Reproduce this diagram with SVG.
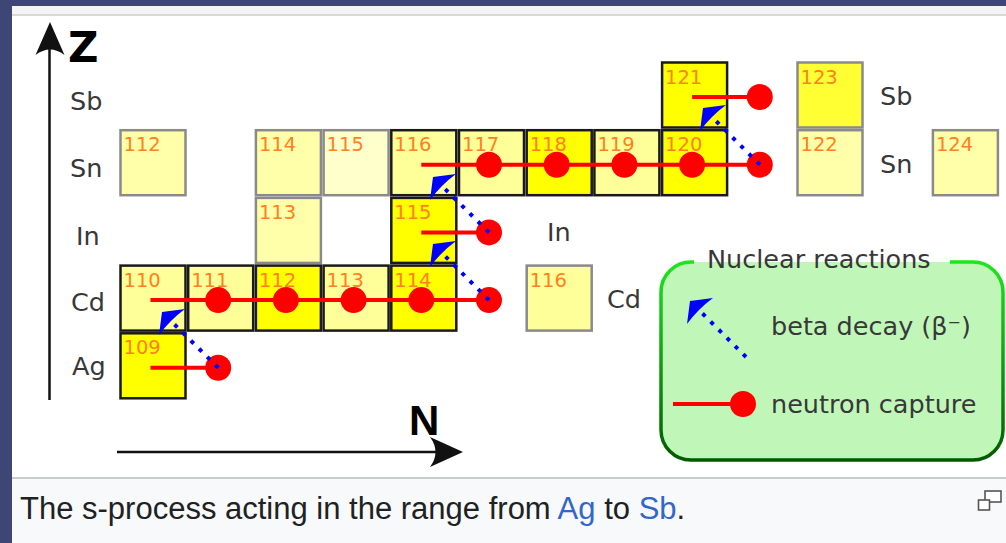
<svg xmlns="http://www.w3.org/2000/svg" width="1006" height="543" viewBox="0 0 1006 543">
<defs>
<style>
.cb{stroke:#1a1a1a;stroke-width:2.5}
.cg{stroke:#8a8a8a;stroke-width:2.5}
.num{font-family:"DejaVu Sans",sans-serif;font-size:19.5px;fill:#ff7f22}
.lbl{font-family:"DejaVu Sans",sans-serif;font-size:25.5px;fill:#383838}
.cap{stroke:#ff0000;stroke-width:4;fill:none}
.dot{fill:#ff0000}
.beta{stroke:#0000ff;stroke-width:4;stroke-dasharray:4 7.5;fill:none}
.bh{fill:#0000ff}
.ax{stroke:#111;stroke-width:2.5;fill:none}
.axh{fill:#111}
</style>
<linearGradient id="gs" gradientUnits="userSpaceOnUse" x1="0" y1="262" x2="0" y2="460">
<stop offset="0" stop-color="#1ee61e"/>
<stop offset="1" stop-color="#005a00"/>
</linearGradient>
</defs>
<rect x="0" y="0" width="1006" height="543" fill="#3e4675"/>
<rect x="12" y="6" width="994" height="8" fill="#f4f4f4"/>
<rect x="12" y="14" width="994" height="2" fill="#d8d8d8"/>
<rect x="12" y="16" width="994" height="461" fill="#ffffff"/>
<rect x="12" y="477" width="994" height="2" fill="#c8ccd1"/>
<rect x="12" y="479" width="994" height="64" fill="#f8f9fa"/>

<g id="cells">
<g id="sb121"><rect class="cb" x="662.1" y="62.5" width="65" height="65" fill="#ffff00"/><text class="num" x="665" y="83.5">121</text></g>
<g id="sb123"><rect class="cg" x="797.5" y="62.5" width="65" height="65" fill="#ffff33"/><text class="num" x="800.5" y="83.5">123</text></g>
<g id="sn112"><rect class="cg" x="120.5" y="130.2" width="65" height="65" fill="#ffffaa"/><text class="num" x="123.5" y="151.2">112</text></g>
<g id="sn114"><rect class="cg" x="255.9" y="130.2" width="65" height="65" fill="#ffffaa"/><text class="num" x="258.9" y="151.2">114</text></g>
<g id="sn115"><rect class="cg" x="323.6" y="130.2" width="65" height="65" fill="#ffffcc"/><text class="num" x="326.6" y="151.2">115</text></g>
<g id="sn116"><rect class="cb" x="391.3" y="130.2" width="65" height="65" fill="#ffff99"/><text class="num" x="394.3" y="151.2">116</text></g>
<g id="sn117"><rect class="cb" x="459" y="130.2" width="65" height="65" fill="#ffff99"/><text class="num" x="462" y="151.2">117</text></g>
<g id="sn118"><rect class="cb" x="526.7" y="130.2" width="65" height="65" fill="#ffff00"/><text class="num" x="529.7" y="151.2">118</text></g>
<g id="sn119"><rect class="cb" x="594.4" y="130.2" width="65" height="65" fill="#ffff99"/><text class="num" x="597.4" y="151.2">119</text></g>
<g id="sn120"><rect class="cb" x="662.1" y="130.2" width="65" height="65" fill="#ffff00"/><text class="num" x="665.1" y="151.2">120</text></g>
<g id="sn122"><rect class="cg" x="797.5" y="130.2" width="65" height="65" fill="#ffffaa"/><text class="num" x="800.5" y="151.2">122</text></g>
<g id="sn124"><rect class="cg" x="932.9" y="130.2" width="65" height="65" fill="#ffffaa"/><text class="num" x="935.9" y="151.2">124</text></g>
<g id="in113"><rect class="cg" x="255.9" y="197.9" width="65" height="65" fill="#ffffaa"/><text class="num" x="258.9" y="218.9">113</text></g>
<g id="in115"><rect class="cb" x="391.3" y="197.9" width="65" height="65" fill="#ffff00"/><text class="num" x="394.3" y="218.9">115</text></g>
<g id="cd110"><rect class="cb" x="120.5" y="265.6" width="65" height="65" fill="#ffff99"/><text class="num" x="123.5" y="286.6">110</text></g>
<g id="cd111"><rect class="cb" x="188.2" y="265.6" width="65" height="65" fill="#ffff99"/><text class="num" x="191.2" y="286.6">111</text></g>
<g id="cd112"><rect class="cb" x="255.9" y="265.6" width="65" height="65" fill="#ffff00"/><text class="num" x="258.9" y="286.6">112</text></g>
<g id="cd113"><rect class="cb" x="323.6" y="265.6" width="65" height="65" fill="#ffff99"/><text class="num" x="326.6" y="286.6">113</text></g>
<g id="cd114"><rect class="cb" x="391.3" y="265.6" width="65" height="65" fill="#ffff00"/><text class="num" x="394.3" y="286.6">114</text></g>
<g id="cd116"><rect class="cg" x="526.7" y="265.6" width="65" height="65" fill="#ffff99"/><text class="num" x="529.7" y="286.6">116</text></g>
<g id="ag109"><rect class="cb" x="120.5" y="333.3" width="65" height="65" fill="#ffff00"/><text class="num" x="123.5" y="354.3">109</text></g>
</g>

<g id="labels">
<text class="lbl" x="70" y="110">Sb</text>
<text class="lbl" x="70" y="177">Sn</text>
<text class="lbl" x="76" y="245">In</text>
<text class="lbl" x="71" y="311">Cd</text>
<text class="lbl" x="72" y="375">Ag</text>
<text class="lbl" x="880" y="105">Sb</text>
<text class="lbl" x="880" y="173">Sn</text>
<text class="lbl" x="547" y="241">In</text>
<text class="lbl" x="607" y="308">Cd</text>
</g>

<g id="axes">
<g id="z-axis">
<line class="ax" x1="49.5" y1="46" x2="49.5" y2="400"/>
<path class="axh" d="M50,22 L64.5,55 Q50,44 35.5,55 Z"/>
<text x="68" y="62" font-family="DejaVu Sans,sans-serif" font-weight="bold" font-size="42" fill="#000">Z</text>
</g>
<g id="n-axis">
<line class="ax" x1="117" y1="452" x2="450" y2="452"/>
<path class="axh" d="M463,452 L430,437 Q441,452 430,467 Z"/>
<text x="409" y="435" font-family="Liberation Sans,Arial,sans-serif" font-weight="bold" font-size="42" fill="#000">N</text>
</g>
</g>

<g id="connectors">
<g id="captures">
<line class="cap" x1="150.5" y1="367.8" x2="218.2" y2="367.8"/>
<circle class="dot" cx="218.2" cy="367.8" r="13"/>
<line class="cap" x1="150.5" y1="300.1" x2="489" y2="300.1"/>
<circle class="dot" cx="218.2" cy="300.1" r="13"/>
<circle class="dot" cx="285.9" cy="300.1" r="13"/>
<circle class="dot" cx="353.6" cy="300.1" r="13"/>
<circle class="dot" cx="421.3" cy="300.1" r="13"/>
<circle class="dot" cx="489" cy="300.1" r="13"/>
<line class="cap" x1="421.3" y1="232.4" x2="489" y2="232.4"/>
<circle class="dot" cx="489" cy="232.4" r="13"/>
<line class="cap" x1="421.3" y1="164.7" x2="759.8" y2="164.7"/>
<circle class="dot" cx="489" cy="164.7" r="13"/>
<circle class="dot" cx="556.7" cy="164.7" r="13"/>
<circle class="dot" cx="624.4" cy="164.7" r="13"/>
<circle class="dot" cx="692.1" cy="164.7" r="13"/>
<circle class="dot" cx="759.8" cy="164.7" r="13"/>
<line class="cap" x1="692.1" y1="97" x2="759.8" y2="97"/>
<circle class="dot" cx="759.8" cy="97" r="13"/>
</g>
<g id="betas">
<line class="beta" x1="218.2" y1="367.8" x2="169" y2="319"/>
<path class="bh" d="M162,312 L185,309 Q170,320 159,335 Z"/>
<line class="beta" x1="489" y1="300.1" x2="440" y2="251"/>
<path class="bh" d="M433,244 L456,241 Q441,252 430,267 Z"/>
<line class="beta" x1="489" y1="232.4" x2="440" y2="184"/>
<path class="bh" d="M433,177 L456,174 Q441,185 430,200 Z"/>
<line class="beta" x1="759.8" y1="164.7" x2="710" y2="115"/>
<path class="bh" d="M703,108 L726,105 Q711,116 700,131 Z"/>
</g>
</g>

<g id="legend">
<rect x="661" y="262" width="342" height="198" rx="30" fill="#c0f7b9"/>
<path d="M950,262 H973 A30,30 0 0 1 1003,292 V430 A30,30 0 0 1 973,460 H691 A30,30 0 0 1 661,430 V292 A30,30 0 0 1 691,262 H694" fill="none" stroke="url(#gs)" stroke-width="3.5"/>
<text class="lbl" x="707" y="267.5">Nuclear reactions</text>
<line class="beta" x1="746" y1="357" x2="697" y2="308"/>
<path class="bh" d="M690,301 L713,298 Q698,309 687,324 Z"/>
<text class="lbl" x="771" y="335">beta decay (β⁻)</text>
<line class="cap" x1="673" y1="404" x2="743" y2="404"/>
<circle class="dot" cx="743" cy="404" r="13"/>
<text class="lbl" x="771" y="413">neutron capture</text>
</g>

<g id="caption">
<text x="20" y="518.5" font-family="Liberation Sans,Arial,sans-serif" font-size="31" fill="#202122">The s-process acting in the range from <tspan fill="#3366cc">Ag</tspan> to <tspan fill="#3366cc">Sb</tspan>.</text>
<rect x="985" y="491" width="16" height="11" fill="#ffffff" stroke="#555" stroke-width="1.6"/>
<rect x="978.5" y="500" width="11" height="10" fill="#ffffff" stroke="#555" stroke-width="1.6"/>
</g>
</svg>
